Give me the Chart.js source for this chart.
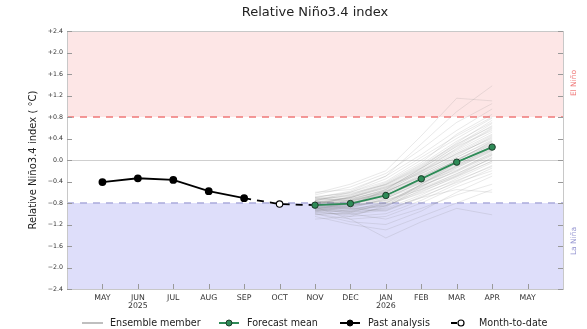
<!DOCTYPE html>
<html>
<head>
<meta charset="utf-8">
<script src="https://cdn.jsdelivr.net/npm/chart.js@4"></script>
<style>
  html, body { margin: 0; padding: 0; background: #fff; }
  #wrap { position: relative; width: 587px; height: 329px; }
</style>
</head>
<body>
<div id="wrap"><canvas id="nino_chart" width="587" height="329"></canvas></div>
<script>
// month slots on the x axis: 0 = MAY 2025 ... 12 = MAY 2026
const monthLabels = ['MAY', 'JUN', 'JUL', 'AUG', 'SEP', 'OCT', 'NOV', 'DEC', 'JAN', 'FEB', 'MAR', 'APR', 'MAY'];
const yearLabels = {1: '2025', 8: '2026'};

// observed monthly index MAY..SEP
const pastMonths = [0, 1, 2, 3, 4];
const pastValues = [-0.41, -0.34, -0.37, -0.58, -0.71];

// current month so far (OCT)
const mtdMonth = 5;
const mtdValue = -0.82;

// forecast NOV..APR
const forecastMonths = [6, 7, 8, 9, 10, 11];
const forecastMean = [-0.84, -0.81, -0.66, -0.35, -0.04, 0.24];

// individual ensemble members, NOV..APR
const ensembleMembers = [
    [-0.78, -0.70, -0.52, -0.20, 0.10, 0.42],
    [-0.90, -0.95, -0.85, -0.60, -0.30, 0.05],
    [-0.70, -0.60, -0.35, 0.05, 0.45, 0.80],
    [-0.95, -1.05, -1.00, -0.75, -0.45, -0.15],
    [-0.82, -0.78, -0.60, -0.28, 0.02, 0.30],
    [-0.88, -0.92, -0.80, -0.45, -0.10, 0.22],
    [-0.75, -0.65, -0.45, -0.10, 0.30, 0.62],
    [-1.00, -1.15, -1.20, -0.95, -0.60, -0.30],
    [-0.80, -0.72, -0.58, -0.30, -0.02, 0.35],
    [-0.85, -0.88, -0.72, -0.40, -0.05, 0.25],
    [-0.65, -0.50, -0.25, 0.20, 0.70, 1.05],
    [-0.92, -0.98, -0.90, -0.65, -0.35, -0.05],
    [-0.84, -0.80, -0.62, -0.32, 0.00, 0.28],
    [-0.78, -0.82, -0.70, -0.48, -0.22, 0.10],
    [-0.95, -0.85, -0.55, -0.15, 0.25, 0.55],
    [-0.72, -0.68, -0.50, -0.25, 0.05, 0.38],
    [-1.05, -1.20, -1.30, -1.05, -0.80, -0.55],
    [-0.86, -0.75, -0.55, -0.20, 0.15, 0.48],
    [-0.80, -0.90, -0.95, -0.70, -0.40, -0.10],
    [-0.60, -0.55, -0.30, 0.10, 0.55, 0.95],
    [-0.88, -0.84, -0.66, -0.38, -0.08, 0.20],
    [-0.92, -0.88, -0.75, -0.55, -0.25, 0.02],
    [-0.76, -0.70, -0.48, -0.15, 0.20, 0.58],
    [-0.98, -1.02, -0.88, -0.50, -0.15, 0.18],
    [-0.82, -0.76, -0.64, -0.42, -0.18, 0.12],
    [-0.70, -0.58, -0.30, 0.30, 0.90, 1.38],
    [-0.90, -1.00, -1.10, -0.90, -0.65, -0.45],
    [-0.84, -0.78, -0.58, -0.22, 0.12, 0.40],
    [-0.78, -0.74, -0.62, -0.35, -0.06, 0.26],
    [-1.10, -1.05, -0.85, -0.45, -0.05, 0.30],
    [-0.86, -0.82, -0.68, -0.44, -0.12, 0.18],
    [-0.74, -0.66, -0.44, -0.08, 0.35, 0.70],
    [-0.94, -0.96, -0.82, -0.58, -0.32, -0.02],
    [-0.80, -0.70, -0.50, -0.18, 0.18, 0.52],
    [-0.88, -1.10, -1.45, -1.15, -0.90, -1.02],
    [-0.68, -0.62, -0.46, -0.12, 0.28, 0.68],
    [-0.90, -0.86, -0.70, -0.36, 0.00, 0.32],
    [-0.82, -0.84, -0.76, -0.52, -0.26, 0.08],
    [-0.76, -0.60, -0.40, 0.00, 0.40, 0.78],
    [-0.96, -0.94, -0.78, -0.46, -0.14, 0.16],
    [-0.84, -0.86, -0.74, -0.50, -0.20, 0.14],
    [-0.72, -0.64, -0.42, -0.05, 0.48, 0.85],
    [-1.00, -1.10, -1.05, -0.80, -0.50, -0.25],
    [-0.80, -0.76, -0.60, -0.30, 0.05, 0.36],
    [-0.86, -0.90, -0.84, -0.62, -0.38, -0.12],
    [-0.62, -0.45, -0.20, 0.45, 1.15, 1.10],
    [-0.92, -0.80, -0.60, -0.26, 0.08, 0.44],
    [-0.78, -0.80, -0.64, -0.40, -0.10, 0.24],
    [-0.88, -0.96, -0.92, -0.70, -0.55, -0.60],
    [-0.74, -0.72, -0.56, -0.24, 0.12, 0.46],
    [-0.94, -0.90, -0.72, -0.42, -0.12, 0.20],
    [-0.82, -0.70, -0.52, -0.22, 0.22, 0.60],
    [-0.86, -0.92, -0.86, -0.56, -0.28, 0.04],
    [-0.70, -0.76, -0.58, -0.32, 0.00, 0.34],
    [-1.02, -0.98, -0.80, -0.48, -0.20, 0.10],
    [-0.80, -0.74, -0.54, -0.16, 0.26, 0.64],
    [-0.90, -0.82, -0.66, -0.34, -0.04, 0.26],
    [-0.76, -0.84, -0.80, -0.54, -0.30, -0.02],
    [-0.84, -0.68, -0.46, -0.14, 0.32, 0.74],
    [-0.98, -1.00, -0.94, -0.68, -0.42, -0.20]
];

// ENSO thresholds
const elNinoLimit = 0.8;
const laNinaLimit = -0.8;

const FONT = "'DejaVu Sans', sans-serif";
const GREEN = 'rgb(46,139,87)';

const toPoints = (xs, ys) => xs.map((x, i) => ({x: x, y: ys[i]}));

const fmtY = (v) => {
    if (Math.abs(v) < 1e-9) return '0.0';
    return (v > 0 ? '+' : '\u2212') + Math.abs(v).toFixed(1);
};

// Build the datasets: members behind, analysis and mean on top
const datasets = [];
ensembleMembers.forEach((member) => {
    datasets.push({
        data: toPoints(forecastMonths, member),
        borderColor: 'rgba(125,125,125,0.22)',
        borderWidth: 0.8,
        pointRadius: 0,
        order: 10
    });
});
datasets.push({
    // dashed bridge SEP -> OCT -> NOV
    data: [{x: pastMonths[4], y: pastValues[4]}, {x: mtdMonth, y: mtdValue}, {x: forecastMonths[0], y: forecastMean[0]}],
    borderColor: '#000',
    borderWidth: 1.8,
    borderDash: [7, 6],
    pointRadius: 0,
    order: 3
});
datasets.push({
    data: toPoints(pastMonths, pastValues),
    borderColor: '#000',
    borderWidth: 1.8,
    pointRadius: 3,
    pointBackgroundColor: '#000',
    pointBorderColor: '#000',
    order: 1
});
datasets.push({
    data: toPoints(forecastMonths, forecastMean),
    borderColor: GREEN,
    borderWidth: 1.8,
    pointRadius: 3.2,
    pointBackgroundColor: GREEN,
    pointBorderColor: '#1d3b2a',
    pointBorderWidth: 1,
    order: 0
});
datasets.push({
    data: [{x: mtdMonth, y: mtdValue}],
    showLine: false,
    pointRadius: 3.2,
    pointBackgroundColor: '#fff',
    pointBorderColor: '#000',
    pointBorderWidth: 1.1,
    order: 0
});

// Shaded regimes, threshold lines and zero line behind everything
const regimes = {
    id: 'regimes',
    beforeDraw(chart) {
        const {ctx, chartArea: a, scales: {y}} = chart;
        const yTop = y.getPixelForValue(y.max);
        const yBot = y.getPixelForValue(y.min);
        const yEl = y.getPixelForValue(elNinoLimit);
        const yLa = y.getPixelForValue(laNinaLimit);
        const y0 = y.getPixelForValue(0);
        ctx.save();
        ctx.fillStyle = 'rgb(253,230,230)';
        ctx.fillRect(a.left, yTop, a.width, yEl - yTop);
        ctx.fillStyle = 'rgb(222,222,250)';
        ctx.fillRect(a.left, yLa, a.width, yBot - yLa);
        ctx.lineWidth = 1;
        ctx.strokeStyle = '#cfcfcf';
        ctx.beginPath();
        ctx.moveTo(a.left, Math.round(y0) + 0.5);
        ctx.lineTo(a.right, Math.round(y0) + 0.5);
        ctx.stroke();
        ctx.setLineDash([7, 6]);
        ctx.lineWidth = 1.3;
        ctx.strokeStyle = 'rgb(240,120,120)';
        ctx.beginPath();
        ctx.moveTo(a.left, yEl);
        ctx.lineTo(a.right, yEl);
        ctx.stroke();
        ctx.strokeStyle = 'rgb(170,170,220)';
        ctx.beginPath();
        ctx.moveTo(a.left, yLa);
        ctx.lineTo(a.right, yLa);
        ctx.stroke();
        ctx.restore();
    }
};

// Frame, inward ticks, title, side labels and legend
const decorations = {
    id: 'decorations',
    afterDraw(chart) {
        const {ctx, chartArea: a, scales: {x, y}} = chart;
        ctx.save();
        ctx.strokeStyle = '#c8c8c8';
        ctx.lineWidth = 1;
        ctx.strokeRect(Math.round(a.left) + 0.5, Math.round(a.top) + 0.5, Math.round(a.width), Math.round(a.height));

        ctx.strokeStyle = '#999';
        ctx.beginPath();
        y.ticks.forEach((t) => {
            const py = Math.round(y.getPixelForValue(t.value)) + 0.5;
            ctx.moveTo(a.left, py); ctx.lineTo(a.left + 5, py);
            ctx.moveTo(a.right - 5, py); ctx.lineTo(a.right, py);
        });
        monthLabels.forEach((m, i) => {
            const px = Math.round(x.getPixelForValue(i)) + 0.5;
            ctx.moveTo(px, a.bottom); ctx.lineTo(px, a.bottom - 5);
        });
        ctx.stroke();

        // title
        ctx.fillStyle = '#222';
        ctx.font = '13px ' + FONT;
        ctx.textAlign = 'center';
        ctx.textBaseline = 'middle';
        ctx.fillText('Relative Niño3.4 index', (a.left + a.right) / 2, 13);

        // regime names on the right
        ctx.font = '7.5px ' + FONT;
        ctx.save();
        ctx.translate(574, 83);
        ctx.rotate(-Math.PI / 2);
        ctx.fillStyle = 'rgb(240,120,120)';
        ctx.fillText('El Niño', 0, 0);
        ctx.restore();
        ctx.save();
        ctx.translate(574, 241);
        ctx.rotate(-Math.PI / 2);
        ctx.fillStyle = 'rgb(150,150,210)';
        ctx.fillText('La Niña', 0, 0);
        ctx.restore();

        // legend
        const ly = 323;
        ctx.font = '9.6px ' + FONT;
        ctx.textAlign = 'left';
        ctx.fillStyle = '#222';
        const items = [
            {x: 82, text: 'Ensemble member', kind: 'ens'},
            {x: 219, text: 'Forecast mean', kind: 'mean'},
            {x: 340, text: 'Past analysis', kind: 'past'},
            {x: 451, text: 'Month-to-date', kind: 'mtd'}
        ];
        items.forEach((it) => {
            ctx.setLineDash([]);
            if (it.kind === 'ens') {
                ctx.strokeStyle = '#aaa';
                ctx.lineWidth = 1.5;
                ctx.beginPath(); ctx.moveTo(it.x, ly); ctx.lineTo(it.x + 21, ly); ctx.stroke();
            } else if (it.kind === 'mean' || it.kind === 'past') {
                const col = it.kind === 'mean' ? GREEN : '#000';
                ctx.strokeStyle = col;
                ctx.lineWidth = 2;
                ctx.beginPath(); ctx.moveTo(it.x, ly); ctx.lineTo(it.x + 20, ly); ctx.stroke();
                ctx.beginPath(); ctx.arc(it.x + 10, ly, 3, 0, Math.PI * 2);
                ctx.fillStyle = col; ctx.fill();
                ctx.lineWidth = 1;
                ctx.strokeStyle = it.kind === 'mean' ? '#1d3b2a' : '#000';
                ctx.stroke();
            } else {
                ctx.strokeStyle = '#000';
                ctx.lineWidth = 2;
                ctx.beginPath(); ctx.moveTo(it.x, ly); ctx.lineTo(it.x + 6, ly); ctx.stroke();
                ctx.beginPath(); ctx.arc(it.x + 10, ly, 3, 0, Math.PI * 2);
                ctx.fillStyle = '#fff'; ctx.fill();
                ctx.lineWidth = 1.2; ctx.stroke();
            }
            ctx.fillStyle = '#222';
            ctx.fillText(it.text, it.x + 28, ly);
        });
        ctx.restore();
    }
};

Chart.defaults.font.family = FONT;

const ninoChart = new Chart('nino_chart', {
    type: 'line',
    data: {datasets: datasets},
    options: {
        responsive: false,
        animation: false,
        layout: {padding: {top: 31, right: 24, bottom: 0, left: 0}},
        plugins: {
            legend: {display: false},
            title: {display: false},
            tooltip: {enabled: false}
        },
        elements: {line: {tension: 0}},
        scales: {
            x: {
                type: 'linear',
                min: -1,
                max: 13,
                grid: {display: false, drawTicks: false},
                border: {display: false},
                afterFit: (scale) => { scale.height = 40; },
                afterBuildTicks: (scale) => {
                    scale.ticks = monthLabels.map((m, i) => ({value: i}));
                },
                ticks: {
                    autoSkip: false,
                    maxRotation: 0,
                    padding: 4,
                    color: '#333',
                    font: {size: 7.8, lineHeight: 1.15},
                    callback: (v) => yearLabels[v] ? [monthLabels[v], yearLabels[v]] : monthLabels[v]
                }
            },
            y: {
                min: -2.4,
                max: 2.4,
                grid: {display: false, drawTicks: false},
                border: {display: false},
                afterFit: (scale) => { scale.width = 67; },
                ticks: {
                    stepSize: 0.4,
                    padding: 4,
                    color: '#333',
                    font: {size: 6.3},
                    callback: (v) => fmtY(v)
                },
                title: {
                    display: true,
                    text: 'Relative Niño3.4 index ( °C)',
                    color: '#222',
                    font: {size: 10},
                    padding: {top: 27, bottom: 0}
                }
            }
        }
    },
    plugins: [regimes, decorations]
});
</script>
</body>
</html>
